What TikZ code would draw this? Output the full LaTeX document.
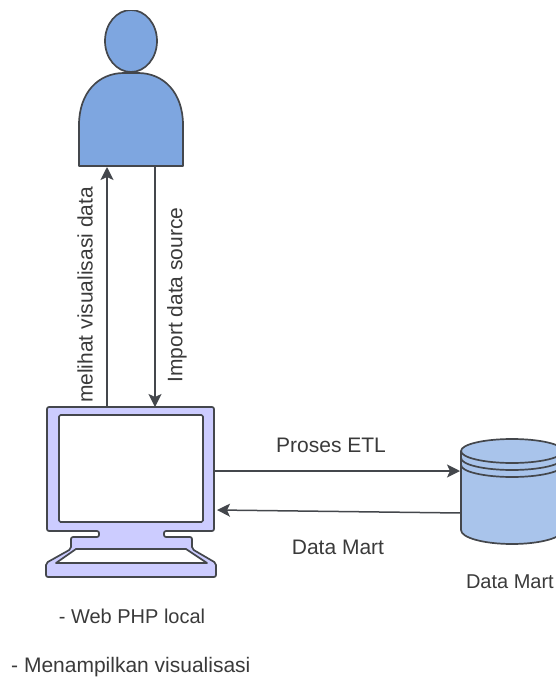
\documentclass[tikz,border=0pt]{standalone}
\usepackage{fontspec}
\setmainfont{Liberation Sans}
\usetikzlibrary{arrows.meta}
\definecolor{edgec}{HTML}{44474C}
\definecolor{txt}{HTML}{3A3A3A}
\definecolor{personc}{RGB}{126,166,224}
\definecolor{dbc}{RGB}{169,196,235}
\definecolor{monc}{RGB}{204,204,255}
\tikzset{
  shapeline/.style={draw=edgec,line width=1.7pt,line join=round},
  conn/.style={draw=edgec,line width=1.5pt,-{Stealth[length=13pt,width=13pt,inset=3pt]}},
  lab/.style={font=\fontsize{21}{25}\selectfont,text=txt,inner sep=0pt},
  labs/.style={font=\fontsize{20}{24}\selectfont,text=txt,inner sep=0pt}
}
\begin{document}
\begin{tikzpicture}[x=1pt,y=-1pt]
\useasboundingbox (0,0) rectangle (555,677);
% person
\begin{scope}
\clip (0,11) rectangle (555,677);
\draw[shapeline,fill=personc] (131,41) ellipse [x radius=26,y radius=31];
\end{scope}
\draw[shapeline,fill=personc] (79,166) -- (79,125) .. controls (79,93) and (98,73) .. (124,73) -- (138,73) .. controls (164,73) and (183,93) .. (183,125) -- (183,166) -- cycle;
% monitor
\draw[shapeline,fill=monc,rounded corners=2pt]
  (47,407) -- (214,407) -- (214,531) -- (164,531) -- (164,537) -- (192,537) -- (192,549)
  -- (216,563) -- (216,577) -- (46,577) -- (46,563) -- (71,549) -- (71,537) -- (99,537) -- (99,531) -- (47,531) -- cycle;
\draw[shapeline,fill=white,rounded corners=1.5pt] (59,415) rectangle (203,522);
\draw[shapeline,fill=white] (76,549) -- (186,549) -- (207,563) -- (56,563) -- cycle;
% cylinder
\draw[shapeline,fill=dbc] (461,451) -- (461,530) arc[start angle=180,end angle=0,x radius=51,y radius=14] -- (563,451) arc[start angle=0,end angle=-180,x radius=51,y radius=12] -- cycle;
\draw[shapeline] (461,451) arc[start angle=180,end angle=0,x radius=51,y radius=12];
\draw[shapeline] (461,458) arc[start angle=180,end angle=0,x radius=51,y radius=12];
\draw[shapeline] (461,465) arc[start angle=180,end angle=0,x radius=51,y radius=12];
% connectors
\coordinate (aT) at (107,167);
\coordinate (aB) at (107,407);
\coordinate (bT) at (155,166);
\coordinate (bB) at (155,407);
\coordinate (cL) at (214,471);
\coordinate (cR) at (460,471);
\coordinate (dR) at (461,513);
\coordinate (dL) at (217,510);
\draw[conn] (aB) -- (aT);
\draw[conn] (bT) -- (bB);
\draw[conn] (cL) -- (cR);
\draw[conn] (dR) -- (dL);
% labels
\node[lab,rotate=90] (l1) at (85,295) {melihat visualisasi data};
\node[lab,rotate=90] (l2) at (177,295) {Import data source};
\node[lab] (l3) at (331,445) {Proses ETL};
\node[lab] (l4) at (338,547) {Data Mart};
\node[labs,anchor=east] (l5) at (554,582) {Data Mart};
\node[labs] (l6) at (132,616) {- Web PHP local};
\node[lab,anchor=west] (l7) at (11,667) {- Menampilkan visualisasi};
\end{tikzpicture}
\end{document}
